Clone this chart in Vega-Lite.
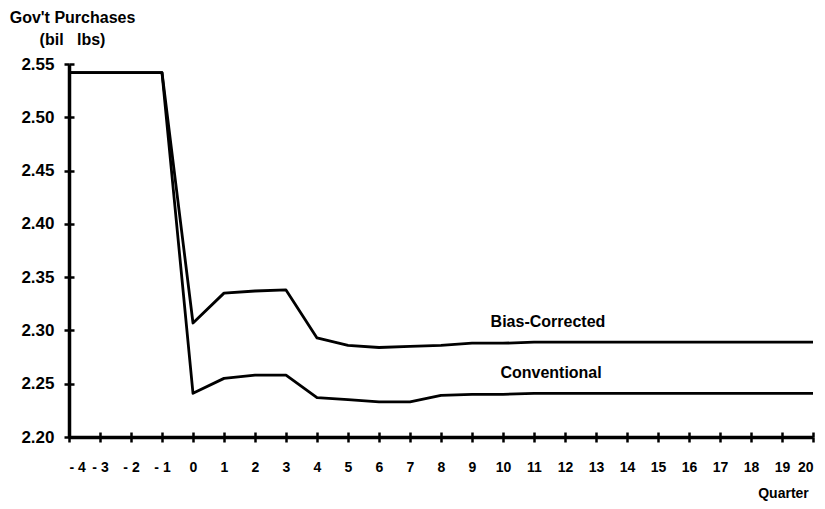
{
  "$schema": "https://vega.github.io/schema/vega-lite/v6.json",
  "autosize": {"type": "none"},
  "width": 744,
  "height": 373,
  "padding": {"left": 69, "top": 64, "right": 12, "bottom": 72},
  "background": "white",
  "config": {
    "view": {"stroke": null},
    "font": "Liberation Sans",
    "axis": {"grid": false}
  },
  "datasets": {
    "series": [
      {"quarter": -4, "value": 2.542, "series": "Bias-Corrected"},
      {"quarter": -3, "value": 2.542, "series": "Bias-Corrected"},
      {"quarter": -2, "value": 2.542, "series": "Bias-Corrected"},
      {"quarter": -1, "value": 2.542, "series": "Bias-Corrected"},
      {"quarter": 0, "value": 2.307, "series": "Bias-Corrected"},
      {"quarter": 1, "value": 2.335, "series": "Bias-Corrected"},
      {"quarter": 2, "value": 2.337, "series": "Bias-Corrected"},
      {"quarter": 3, "value": 2.338, "series": "Bias-Corrected"},
      {"quarter": 4, "value": 2.293, "series": "Bias-Corrected"},
      {"quarter": 5, "value": 2.286, "series": "Bias-Corrected"},
      {"quarter": 6, "value": 2.284, "series": "Bias-Corrected"},
      {"quarter": 7, "value": 2.285, "series": "Bias-Corrected"},
      {"quarter": 8, "value": 2.286, "series": "Bias-Corrected"},
      {"quarter": 9, "value": 2.288, "series": "Bias-Corrected"},
      {"quarter": 10, "value": 2.288, "series": "Bias-Corrected"},
      {"quarter": 11, "value": 2.289, "series": "Bias-Corrected"},
      {"quarter": 12, "value": 2.289, "series": "Bias-Corrected"},
      {"quarter": 13, "value": 2.289, "series": "Bias-Corrected"},
      {"quarter": 14, "value": 2.289, "series": "Bias-Corrected"},
      {"quarter": 15, "value": 2.289, "series": "Bias-Corrected"},
      {"quarter": 16, "value": 2.289, "series": "Bias-Corrected"},
      {"quarter": 17, "value": 2.289, "series": "Bias-Corrected"},
      {"quarter": 18, "value": 2.289, "series": "Bias-Corrected"},
      {"quarter": 19, "value": 2.289, "series": "Bias-Corrected"},
      {"quarter": 20, "value": 2.289, "series": "Bias-Corrected"},
      {"quarter": -4, "value": 2.542, "series": "Conventional"},
      {"quarter": -3, "value": 2.542, "series": "Conventional"},
      {"quarter": -2, "value": 2.542, "series": "Conventional"},
      {"quarter": -1, "value": 2.542, "series": "Conventional"},
      {"quarter": 0, "value": 2.241, "series": "Conventional"},
      {"quarter": 1, "value": 2.255, "series": "Conventional"},
      {"quarter": 2, "value": 2.258, "series": "Conventional"},
      {"quarter": 3, "value": 2.258, "series": "Conventional"},
      {"quarter": 4, "value": 2.237, "series": "Conventional"},
      {"quarter": 5, "value": 2.235, "series": "Conventional"},
      {"quarter": 6, "value": 2.233, "series": "Conventional"},
      {"quarter": 7, "value": 2.233, "series": "Conventional"},
      {"quarter": 8, "value": 2.239, "series": "Conventional"},
      {"quarter": 9, "value": 2.240, "series": "Conventional"},
      {"quarter": 10, "value": 2.240, "series": "Conventional"},
      {"quarter": 11, "value": 2.241, "series": "Conventional"},
      {"quarter": 12, "value": 2.241, "series": "Conventional"},
      {"quarter": 13, "value": 2.241, "series": "Conventional"},
      {"quarter": 14, "value": 2.241, "series": "Conventional"},
      {"quarter": 15, "value": 2.241, "series": "Conventional"},
      {"quarter": 16, "value": 2.241, "series": "Conventional"},
      {"quarter": 17, "value": 2.241, "series": "Conventional"},
      {"quarter": 18, "value": 2.241, "series": "Conventional"},
      {"quarter": 19, "value": 2.241, "series": "Conventional"},
      {"quarter": 20, "value": 2.241, "series": "Conventional"}
    ],
    "labels": [
      {"quarter": 11.45, "value": 2.3075, "label": "Bias-Corrected"},
      {"quarter": 11.55, "value": 2.26, "label": "Conventional"}
    ]
  },
  "resolve": {"axis": {"x": "independent", "y": "independent"}},
  "layer": [
    {
      "data": {"name": "series"},
      "mark": {"type": "line", "color": "black", "strokeWidth": 2.8, "strokeJoin": "round"},
      "encoding": {
        "x": {
          "field": "quarter", "type": "quantitative",
          "scale": {"domain": [-4, 20], "nice": false, "zero": false},
          "axis": {
            "orient": "bottom",
            "values": [-4,-3,-2,-1,0,1,2,3,4,5,6,7,8,9,10,11,12,13,14,15,16,17,18,19,20],
            "labelExpr": "datum.value < 0 ? '- ' + abs(datum.value) : '' + datum.value",
            "domain": true, "domainColor": "black", "domainWidth": 3.5, "domainOpacity": 1,
            "tickColor": "black", "tickWidth": 2.5, "tickSize": 5,
            "labelFont": "Liberation Sans", "labelFontWeight": "bold", "labelFontSize": 14,
            "labelColor": "black", "labelPadding": 18, "labelBaseline": "top",
            "title": "Quarter",
            "titleFont": "Liberation Sans", "titleFontWeight": "bold", "titleFontSize": 14,
            "titleColor": "black",
            "titleX": 714, "titleY": 60, "titleAlign": "center", "titleBaseline": "alphabetic", "titleAnchor": null
          }
        },
        "y": {
          "field": "value", "type": "quantitative",
          "scale": {"domain": [2.2, 2.55], "nice": false, "zero": false},
          "axis": {
            "orient": "left",
            "values": [2.2, 2.25, 2.3, 2.35, 2.4, 2.45, 2.5, 2.55],
            "format": ".2f",
            "domain": true, "domainColor": "black", "domainWidth": 3.5, "domainOpacity": 1,
            "tickColor": "black", "tickWidth": 2.5, "tickSize": 5,
            "labelFont": "Liberation Sans", "labelFontWeight": "bold", "labelFontSize": 17,
            "labelColor": "black", "labelPadding": 10,
            "title": ["Gov't Purchases", "(bil\u00a0\u00a0 lbs)"],
            "titleFont": "Liberation Sans", "titleFontWeight": "bold", "titleFontSize": 16,
            "titleColor": "black", "titleAngle": 0,
            "titleX": 3, "titleY": -42, "titleAlign": "center", "titleBaseline": "alphabetic",
            "titleLineHeight": 22, "titleAnchor": null
          }
        },
        "detail": {"field": "series"}
      }
    },
    {
      "data": {"name": "labels"},
      "mark": {"type": "text", "font": "Liberation Sans", "fontSize": 16, "fontWeight": "bold", "color": "black", "align": "center", "baseline": "middle"},
      "encoding": {
        "x": {
          "field": "quarter", "type": "quantitative",
          "scale": {"domain": [-4, 20], "nice": false, "zero": false},
          "axis": {
            "orient": "bottom",
            "values": [-4,-3,-2,-1,0,1,2,3,4,5,6,7,8,9,10,11,12,13,14,15,16,17,18,19,20],
            "domain": false, "labels": false, "title": null,
            "tickColor": "black", "tickWidth": 2.5, "tickSize": 5, "offset": -5
          }
        },
        "y": {
          "field": "value", "type": "quantitative",
          "scale": {"domain": [2.2, 2.55], "nice": false, "zero": false},
          "axis": {
            "orient": "left",
            "values": [2.2, 2.25, 2.3, 2.35, 2.4, 2.45, 2.5, 2.55],
            "domain": false, "labels": false, "title": null,
            "tickColor": "black", "tickWidth": 2.5, "tickSize": 5, "offset": -5
          }
        },
        "text": {"field": "label"}
      }
    }
  ]
}
